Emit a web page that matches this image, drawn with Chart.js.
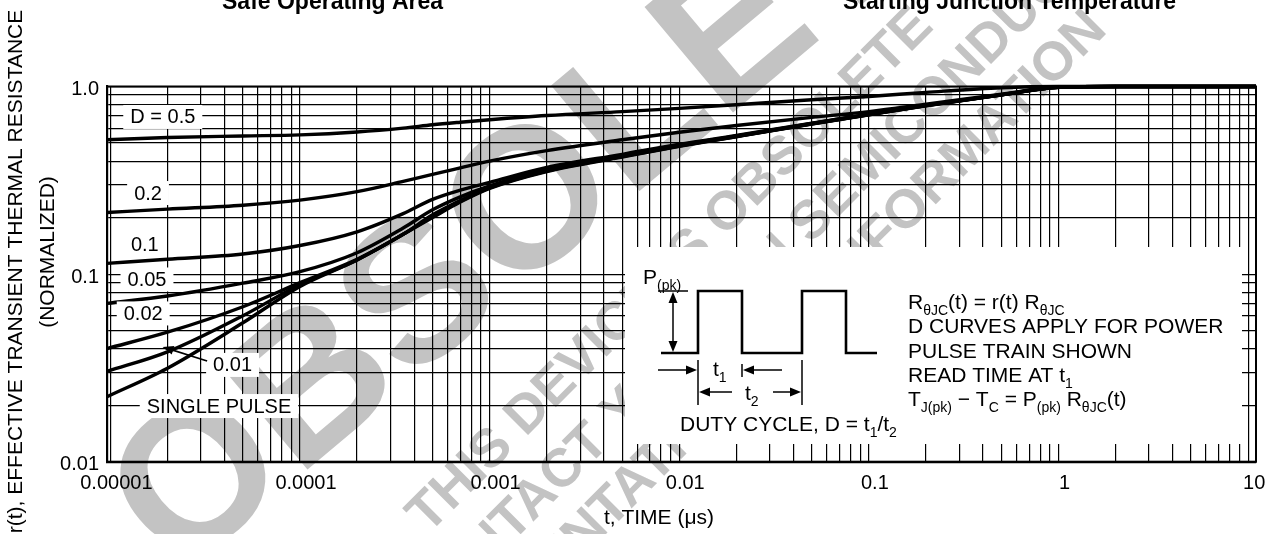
<!DOCTYPE html>
<html>
<head>
<meta charset="utf-8">
<script src="https://cdn.jsdelivr.net/npm/chart.js@4.4.0/dist/chart.umd.min.js"></script>
<style>
  html, body { margin: 0; padding: 0; background: #fff; }
  #wrap { width: 1270px; height: 534px; position: relative; }
</style>
</head>
<body>
<div id="wrap"><canvas id="zthChart"></canvas></div>
<script>
// pulse width t (µs), shared by all curves
const timeUs = [9.6e-6, 2e-5, 5e-5, 1e-4, 2e-4, 3.5e-4, 5e-4, 7e-4, 1e-3, 2e-3, 5e-3, 1e-2, 2e-2, 5e-2, 0.1, 0.2, 0.5, 1, 2, 11];

// r(t), one array per duty cycle
const rD050   = [0.52, 0.535, 0.545, 0.552, 0.572, 0.60, 0.625, 0.645, 0.665, 0.70, 0.735, 0.765, 0.80, 0.85, 0.885, 0.93, 0.985, 1.0, 1.0, 1.0];
const rD020   = [0.213, 0.222, 0.233, 0.248, 0.275, 0.312, 0.340, 0.368, 0.40, 0.455, 0.52, 0.57, 0.62, 0.685, 0.735, 0.805, 0.91, 0.995, 1.0, 1.0];
const rD010   = [0.114, 0.120, 0.128, 0.142, 0.168, 0.21, 0.25, 0.28, 0.308, 0.37, 0.435, 0.492, 0.548, 0.638, 0.712, 0.795, 0.905, 0.99, 1.0, 1.0];
const rD005   = [0.0698, 0.0764, 0.0895, 0.103, 0.13, 0.176, 0.22, 0.258, 0.295, 0.36, 0.428, 0.487, 0.545, 0.635, 0.71, 0.793, 0.904, 0.99, 1.0, 1.0];
const rD002   = [0.0401, 0.049, 0.067, 0.09, 0.12, 0.163, 0.207, 0.247, 0.29, 0.356, 0.425, 0.484, 0.543, 0.633, 0.708, 0.792, 0.903, 0.99, 1.0, 1.0];
const rD001   = [0.0303, 0.0385, 0.06, 0.088, 0.119, 0.163, 0.203, 0.244, 0.288, 0.354, 0.423, 0.482, 0.541, 0.632, 0.707, 0.791, 0.902, 0.99, 1.0, 1.0];
const rSingle = [0.0222, 0.0315, 0.055, 0.086, 0.119, 0.163, 0.20, 0.242, 0.286, 0.352, 0.421, 0.48, 0.54, 0.63, 0.706, 0.79, 0.901, 0.99, 1.0, 1.0];

const curveNames = ['D = 0.5', '0.2', '0.1', '0.05', '0.02', '0.01', 'SINGLE PULSE'];
const curveData  = [rD050, rD020, rD010, rD005, rD002, rD001, rSingle];
// where each curve name sits (t, r)
const labelAt = [[1.89e-5, 0.688], [1.58e-5, 0.2705], [1.52e-5, 0.1447], [1.56e-5, 0.0936], [1.49e-5, 0.0617], [4.41e-5, 0.0328], [3.74e-5, 0.0198]];

// axis ticks
const xDecades = [1e-5, 1e-4, 1e-3, 1e-2, 0.1, 1, 10];
const xDecadeLabels = ['0.00001', '0.0001', '0.001', '0.01', '0.1', '1', '10'];
const yDecades = [0.01, 0.1, 1];
const yDecadeLabels = ['0.01', '0.1', '1.0'];

const FONT = "'Liberation Sans', Arial, Helvetica, sans-serif";
const WM_GRAY = '#c3c3c3';

Chart.defaults.font.family = FONT;
Chart.defaults.color = '#000';

function logTicks(lo, hi) {
  const out = [];
  for (let e = Math.round(Math.log10(lo)); e < Math.round(Math.log10(hi)); e++) {
    for (let m = 1; m < 10; m++) out.push({ value: m * Math.pow(10, e) });
  }
  out.push({ value: hi });
  return out;
}
function decadeLabel(v, decades, labels) {
  for (let i = 0; i < decades.length; i++) {
    if (Math.abs(Math.log10(v) - Math.log10(decades[i])) < 1e-6) return labels[i];
  }
  return '';
}

// text with subscripts: parts = [[text, isSub], ...]
function richText(ctx, x, y, parts, size) {
  let cx = x;
  parts.forEach(function(p) {
    ctx.font = (p[1] ? Math.round(size * 0.68) : size) + 'px ' + FONT;
    ctx.fillText(p[0], cx, y + (p[1] ? size * 0.3 : 0));
    cx += ctx.measureText(p[0]).width;
  });
}
function arrow(ctx, x1, y1, x2, y2) {
  const a = Math.atan2(y2 - y1, x2 - x1), L = 11, W = 4.5;
  ctx.beginPath(); ctx.moveTo(x1, y1); ctx.lineTo(x2 - Math.cos(a) * 4, y2 - Math.sin(a) * 4); ctx.stroke();
  ctx.beginPath();
  ctx.moveTo(x2, y2);
  ctx.lineTo(x2 - L * Math.cos(a) + W * Math.sin(a), y2 - L * Math.sin(a) - W * Math.cos(a));
  ctx.lineTo(x2 - L * Math.cos(a) - W * Math.sin(a), y2 - L * Math.sin(a) + W * Math.cos(a));
  ctx.closePath(); ctx.fill();
}
function line(ctx, pts) {
  ctx.beginPath(); ctx.moveTo(pts[0][0], pts[0][1]);
  for (let i = 1; i < pts.length; i++) ctx.lineTo(pts[i][0], pts[i][1]);
  ctx.stroke();
}
function rotatedText(ctx, txt, x, y, deg, font) {
  ctx.save();
  ctx.translate(x, y);
  ctx.rotate(-deg * Math.PI / 180);
  ctx.font = font;
  ctx.textAlign = 'left'; ctx.textBaseline = 'alphabetic';
  ctx.fillText(txt, 0, 0);
  ctx.restore();
}

const sheetDecor = {
  id: 'sheetDecor',
  beforeDraw(chart) {
    const ctx = chart.ctx;
    ctx.save();
    ctx.fillStyle = '#fff';
    ctx.fillRect(0, 0, chart.width, chart.height);
    // OBSOLETE watermark, sits behind the grid
    ctx.fillStyle = WM_GRAY;
    rotatedText(ctx, 'OBSOLETE', 178, 578, 40, 'bold 200px ' + FONT);
    rotatedText(ctx, 'THIS DEVICE IS OBSOLETE', 428, 535, 45, 'bold 54px ' + FONT);
    rotatedText(ctx, 'CONTACT YOUR ON SEMICONDUCTOR', 427, 628, 45, 'bold 54px ' + FONT);
    rotatedText(ctx, 'REPRESENTATIVE FOR INFORMATION', 400, 740, 45, 'bold 54px ' + FONT);
    ctx.restore();
  },
  afterDatasetsDraw(chart) {
    const ctx = chart.ctx, ca = chart.chartArea;
    const xs = chart.scales.x, ys = chart.scales.y;
    ctx.save();
    ctx.strokeStyle = '#000'; ctx.fillStyle = '#000';
    ctx.lineWidth = 2;
    ctx.strokeRect(ca.left, ca.top, ca.right - ca.left, ca.bottom - ca.top);

    // curve names on white boxes
    ctx.textBaseline = 'middle'; ctx.textAlign = 'center';
    ctx.font = '20px ' + FONT;
    curveNames.forEach(function(name, i) {
      const px = xs.getPixelForValue(labelAt[i][0]), py = ys.getPixelForValue(labelAt[i][1]);
      const w = ctx.measureText(name).width + 14;
      ctx.fillStyle = '#fff';
      ctx.fillRect(px - w / 2, py - 12, w, 24);
      ctx.fillStyle = '#000';
      ctx.fillText(name, px, py + 1);
      if (name === '0.01') {
        ctx.lineWidth = 1.6;
        arrow(ctx, px - w / 2 + 1, py - 4, px - 70, py - 18);
      }
    });

    // inset with the pulse train
    const ox = ca.right - 631, oy = ca.bottom - 214.7;
    ctx.fillStyle = '#fff';
    ctx.fillRect(ox, oy, 617, 197);
    ctx.fillStyle = '#000'; ctx.strokeStyle = '#000';
    ctx.textAlign = 'left'; ctx.textBaseline = 'alphabetic';
    richText(ctx, ox + 18, oy + 37, [['P', 0], ['(pk)', 1]], 21);
    ctx.lineWidth = 1.5;
    line(ctx, [[ox + 33, oy + 44], [ox + 63, oy + 44]]);
    arrow(ctx, ox + 48, oy + 75, ox + 48, oy + 45);
    arrow(ctx, ox + 48, oy + 75, ox + 48, oy + 105);
    ctx.lineWidth = 2.6;
    line(ctx, [[ox + 36, oy + 106], [ox + 73, oy + 106], [ox + 73, oy + 44], [ox + 117, oy + 44], [ox + 117, oy + 106],
      [ox + 177, oy + 106], [ox + 177, oy + 44], [ox + 221, oy + 44], [ox + 221, oy + 106], [ox + 252, oy + 106]]);
    ctx.lineWidth = 1.5;
    line(ctx, [[ox + 73, oy + 113], [ox + 73, oy + 158]]);
    line(ctx, [[ox + 177, oy + 113], [ox + 177, oy + 158]]);
    line(ctx, [[ox + 117, oy + 117], [ox + 117, oy + 130]]);
    arrow(ctx, ox + 33, oy + 123, ox + 72, oy + 123);
    arrow(ctx, ox + 157, oy + 123, ox + 118, oy + 123);
    arrow(ctx, ox + 107, oy + 145, ox + 74, oy + 145);
    arrow(ctx, ox + 148, oy + 145, ox + 176, oy + 145);
    richText(ctx, ox + 88, oy + 129, [['t', 0], ['1', 1]], 21);
    richText(ctx, ox + 120, oy + 153, [['t', 0], ['2', 1]], 21);
    richText(ctx, ox + 55, oy + 183.5, [['DUTY CYCLE, D = t', 0], ['1', 1], ['/t', 0], ['2', 1]], 21);
    const tx = ox + 283;
    richText(ctx, tx, oy + 61.5, [['R', 0], ['θJC', 1], ['(t) = r(t) R', 0], ['θJC', 1]], 21);
    richText(ctx, tx, oy + 86, [['D CURVES APPLY FOR POWER', 0]], 21);
    richText(ctx, tx, oy + 110.5, [['PULSE TRAIN SHOWN', 0]], 21);
    richText(ctx, tx, oy + 135, [['READ TIME AT t', 0], ['1', 1]], 21);
    richText(ctx, tx, oy + 159, [['T', 0], ['J(pk)', 1], [' \u2212 T', 0], ['C', 1], [' = P', 0], ['(pk)', 1], [' R', 0], ['θJC', 1], ['(t)', 0]], 21);
    ctx.restore();
  },
  afterDraw(chart) {
    const ctx = chart.ctx;
    ctx.save();
    ctx.fillStyle = '#000';
    ctx.font = '21px ' + FONT;
    ctx.textAlign = 'center'; ctx.textBaseline = 'middle';
    ctx.fillText('t, TIME (\u03bcs)', 659, 518);
    ctx.save();
    ctx.translate(16, 271.5); ctx.rotate(-Math.PI / 2);
    ctx.fillText('r(t), EFFECTIVE TRANSIENT THERMAL RESISTANCE', 0, 0);
    ctx.restore();
    ctx.save();
    ctx.translate(48, 252); ctx.rotate(-Math.PI / 2);
    ctx.fillText('(NORMALIZED)', 0, 0);
    ctx.restore();
    // captions of the figures above, cut by the page edge
    ctx.font = 'bold 23px ' + FONT;
    ctx.textAlign = 'left'; ctx.textBaseline = 'alphabetic';
    ctx.fillText('Safe Operating Area', 222, 9);
    ctx.fillText('Starting Junction Temperature', 843, 9);
    ctx.restore();
  }
};

const ctx = document.getElementById('zthChart').getContext('2d');
const zthChart = new Chart(ctx, {
  type: 'line',
  data: {
    datasets: curveData.map(function(r, i) {
      return {
        label: curveNames[i],
        data: timeUs.map(function(t, k) { return { x: t, y: r[k] }; }),
        borderColor: '#000',
        borderWidth: 3.4,
        pointRadius: 0,
        cubicInterpolationMode: 'monotone',
        fill: false,
        clip: false
      };
    })
  },
  options: {
    responsive: true,
    maintainAspectRatio: false,
    animation: false,
    events: [],
    layout: { padding: { top: 86.5, right: 14, left: 0, bottom: 0 } },
    plugins: { legend: { display: false }, tooltip: { enabled: false } },
    scales: {
      x: {
        type: 'logarithmic',
        min: 9.6e-6,
        max: 11,
        afterBuildTicks: function(s) { s.ticks = logTicks(1e-5, 10); },
        afterFit: function(s) { s.height = 72.3; },
        grid: { color: '#000', lineWidth: 1.2, drawTicks: false },
        border: { display: true, color: '#000', width: 2.2 },
        ticks: {
          autoSkip: false, maxRotation: 0, padding: 10, labelOffset: 6,
          font: { size: 20 },
          callback: function(v) { return decadeLabel(v, xDecades, xDecadeLabels); }
        }
      },
      y: {
        type: 'logarithmic',
        min: 0.01,
        max: 1.0,
        afterBuildTicks: function(s) { s.ticks = logTicks(0.01, 1); },
        afterFit: function(s) { s.width = 107; },
        grid: { color: '#000', lineWidth: 1.2, drawTicks: false },
        border: { display: true, color: '#000', width: 2.2 },
        ticks: {
          autoSkip: false, padding: 8, labelOffset: 3,
          font: { size: 20 },
          callback: function(v) { return decadeLabel(v, yDecades, yDecadeLabels); }
        }
      }
    }
  },
  plugins: [sheetDecor]
});
</script>
</body>
</html>
